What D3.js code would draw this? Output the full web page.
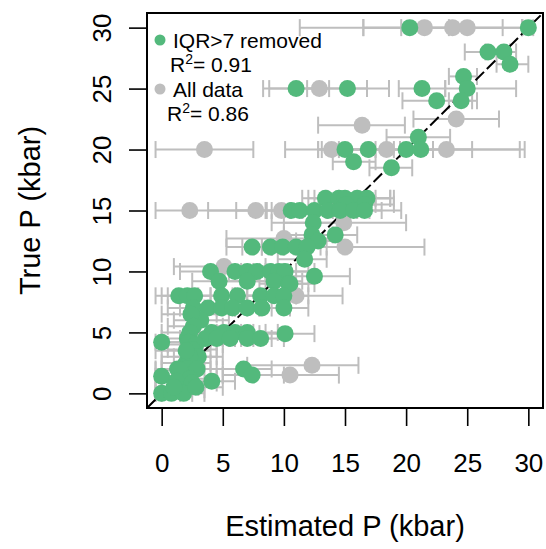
<!DOCTYPE html>
<html lang="en">
<head>
<meta charset="utf-8">
<title>True vs estimated P</title>
<script src="https://cdn.jsdelivr.net/npm/d3@7/dist/d3.min.js"></script>
<style>
  body { margin: 0; background: #fff; }
  text { font-family: "Liberation Sans", Arial, sans-serif; fill: #000; }
  .tick line { stroke: #000; stroke-width: 1.6px; }
  .bar { stroke: #bebebe; stroke-width: 2px; fill: none; }
</style>
</head>
<body>
<script>
// each point: [true P, estimated P, bar low, bar high]  (kbar)
var removedPts = [
  [30, 21.5, 11.3, 27.9], [30, 23.8, 16.5, 29.5], [30, 25.0, 19.6, 29.5],
  [25, 12.9, 8.3, 18.6], [22.5, 24.1, 20.6, 27.6], [22, 16.4, 12.8, 19.9],
  [20, 3.5, -0.5, 7.5], [20, 13.9, 10.1, 22.2], [20, 18.4, 13.1, 25.4],
  [20, 23.3, 12.8, 29.7], [15, 2.3, -0.5, 8.6], [15, 7.7, 3.8, 11.5],
  [15, 9.8, 6.1, 14.0], [14, 14.9, 9.0, 20.0], [12.7, 10.0, 5.3, 14.5],
  [12, 15.0, 8.2, 21.5], [10.4, 5.1, 1.0, 8.5], [8, 11.0, 5.8, 14.8],
  [2.3, 12.3, 7.0, 16.1], [1.5, 10.5, 5.0, 14.5]
];

var keptPts = [
  [30, 20.3, 16.5, 23.5], [30, 30.0, 29.5, 30.4],
  [28, 26.7, 24.8, 28.5], [28, 28.0, 26.5, 29.0], [27, 28.5, 27.4, 30.0],
  [26, 24.7, 23.5, 25.8],
  [25, 11.0, 8.8, 13.7], [25, 15.2, 11.9, 16.8], [25, 21.3, 19.4, 23.2], [25, 25.0, 23.2, 29.0],
  [24, 22.5, 19.7, 25.4], [24, 24.5, 23.5, 25.8],
  [21, 21.0, 18.4, 23.6],
  [20, 15.0, 12.8, 17.0], [20, 16.9, 14.5, 19.0], [20, 20.0, 17.5, 22.2], [20, 21.2, 19.5, 29.3],
  [19, 15.7, 14.0, 17.5], [18.5, 18.8, 17.0, 20.5],
  [16, 13.4, 11.5, 16.0], [16, 14.5, 12.0, 17.5], [16, 15.0, 12.5, 18.7], [16, 16.0, 13.5, 19.0], [16, 16.8, 14.5, 18.7],
  [15.5, 15.1, 13.0, 17.5], [15.5, 16.6, 14.0, 19.0],
  [15, 10.6, 9.0, 12.5], [15, 11.3, 8.5, 13.5], [15, 12.5, 10.5, 14.5], [15, 13.6, 11.5, 16.0],
  [15, 14.6, 12.5, 17.0], [15, 15.7, 13.5, 18.0], [15, 16.6, 14.5, 19.6],
  [14, 12.4, 10.0, 14.5], [13, 12.3, 10.0, 14.0], [13, 14.2, 12.0, 16.0], [12.5, 12.8, 11.0, 14.5],
  [12, 7.4, 5.3, 9.0], [12, 8.9, 6.6, 11.0], [12, 9.9, 8.2, 12.0], [12, 11.0, 9.0, 13.0], [12, 11.9, 10.0, 13.5],
  [11, 11.7, 9.5, 13.5],
  [10, 4.0, 1.5, 6.0], [10, 6.0, 4.0, 8.5], [10, 7.0, 5.0, 9.0], [10, 7.8, 5.5, 10.0],
  [10, 8.9, 6.5, 11.0], [10, 9.6, 7.5, 12.0], [10, 10.1, 8.0, 12.5],
  [9.6, 12.5, 10.0, 15.4],
  [9.2, 4.7, 2.5, 7.0], [9.2, 7.0, 5.0, 9.5], [9.2, 9.2, 7.0, 11.5], [9, 10.4, 8.0, 12.0], [9, 10.5, 8.5, 12.5],
  [8, 1.4, -0.5, 3.0], [8, 2.1, 0.0, 4.0], [8, 2.7, 0.5, 4.5], [8, 4.9, 2.5, 7.0],
  [8, 6.2, 4.0, 8.5], [8, 8.1, 6.0, 10.0], [8, 9.2, 7.0, 11.0], [8, 10.0, 8.0, 12.0],
  [7, 2.6, 0.5, 4.5], [7, 3.8, 1.5, 6.0], [7, 4.9, 3.0, 7.0], [7, 5.8, 3.5, 8.0],
  [7, 7.0, 5.0, 9.0], [7, 8.2, 6.0, 10.5], [7, 10.0, 8.0, 12.0],
  [6, 3.2, 1.0, 5.5], [6.5, 2.4, 0.0, 4.5], [5.5, 2.6, 0.5, 5.0],
  [5, 2.3, 0.0, 4.5], [5, 4.1, 2.0, 6.5], [5, 5.1, 3.0, 7.5], [5, 6.0, 4.0, 8.5], [5, 7.0, 5.0, 9.5],
  [4.9, 10.1, 8.0, 12.5],
  [4.5, 2.1, 0.0, 4.0], [4.5, 3.6, 1.5, 5.5], [4.5, 4.5, 2.5, 6.5], [4.5, 5.6, 3.5, 7.5],
  [4.5, 7.0, 5.0, 9.0], [4.5, 8.1, 6.0, 10.0],
  [4.2, 0.0, -0.5, 2.0], [4.2, 2.2, 0.0, 4.5], [4, 2.8, 0.5, 5.0], [3.6, 2.5, 0.5, 4.5], [3, 3.0, 1.0, 5.0],
  [2.5, 2.0, 0.0, 4.0], [3, 2.3, 0.0, 4.5], [3.5, 2.0, -0.5, 4.0],
  [2, 1.3, -0.5, 3.0], [2, 2.1, 0.0, 4.0], [2, 2.9, 1.0, 5.0], [2, 6.7, 4.5, 9.0], [1.5, 7.4, 5.0, 10.0],
  [1, 4.1, 2.0, 6.0], [1.4, 0.0, -0.5, 2.0], [1.9, 1.5, -0.5, 3.5], [1.2, 2.3, 0.0, 4.5], [1, 1.2, -0.5, 3.0],
  [0, 0.0, -0.5, 1.5], [0, 0.8, -0.5, 2.5], [0.3, 1.8, 0.0, 3.5], [0.85, 2.5, 0.5, 4.5], [0, 1.8, 0.0, 3.5],
  [0.5, 1.0, -0.5, 3.0], [0.5, 2.8, 0.5, 5.0]
];

var xTicks = [0, 5, 10, 15, 20, 25, 30];
var yTicks = [0, 5, 10, 15, 20, 25, 30];
var legendNames = ["IQR>7 removed", "All data"];
var legendR2 = ["0.91", "0.86"];

// layout (plot box edges)
var w = 546, h = 549;
var boxL = 147, boxR = 543, boxT = 13, boxB = 408;
var green = "#53b97c", grey = "#bebebe";
var rad = 8.5, cap = 8.5;

var svg = d3.select("body").append("svg")
  .attr("width", w)
  .attr("height", h);

var x = d3.scaleLinear().domain([-1.2, 31.2]).range([boxL, boxR]);
var y = d3.scaleLinear().domain([-1.2, 31.2]).range([boxB, boxT]);

var allPts = removedPts.concat(keptPts);

// error bars (all points)
var bars = svg.append("g");
allPts.forEach(function(d) {
  var yy = y(d[0]);
  bars.append("line").attr("class", "bar")
    .attr("x1", x(d[2])).attr("x2", x(d[3])).attr("y1", yy).attr("y2", yy);
  [d[2], d[3]].forEach(function(e) {
    bars.append("line").attr("class", "bar")
      .attr("x1", x(e)).attr("x2", x(e)).attr("y1", yy - cap).attr("y2", yy + cap);
  });
});

// 1:1 line
svg.append("line")
  .attr("x1", x(-1.2)).attr("y1", y(-1.2))
  .attr("x2", x(31.2)).attr("y2", y(31.2))
  .attr("stroke", "#000").attr("stroke-width", 2)
  .attr("stroke-dasharray", "12,4");

// points
svg.append("g").selectAll("circle")
  .data(removedPts).enter().append("circle")
  .attr("cx", d => x(d[1])).attr("cy", d => y(d[0]))
  .attr("r", rad).attr("fill", grey);

svg.append("g").selectAll("circle")
  .data(keptPts).enter().append("circle")
  .attr("cx", d => x(d[1])).attr("cy", d => y(d[0]))
  .attr("r", rad).attr("fill", green);

// box
svg.append("rect")
  .attr("x", boxL).attr("y", boxT)
  .attr("width", boxR - boxL).attr("height", boxB - boxT)
  .attr("fill", "none").attr("stroke", "#000").attr("stroke-width", 2);

// axes
var gX = svg.append("g")
  .attr("transform", "translate(0," + boxB + ")")
  .call(d3.axisBottom(x).tickValues(xTicks).tickSize(18).tickPadding(0).tickSizeOuter(0));
gX.select(".domain").remove();
gX.selectAll("text")
  .attr("y", 64).attr("dy", 0)
  .style("font-size", "26px");

var gY = svg.append("g")
  .attr("transform", "translate(" + boxL + ",0)")
  .call(d3.axisLeft(y).tickValues(yTicks).tickSize(18).tickPadding(0).tickSizeOuter(0));
gY.select(".domain").remove();
gY.selectAll("text")
  .attr("x", 0).attr("dy", 0)
  .attr("text-anchor", "middle")
  .attr("transform", "translate(-36,0) rotate(-90)")
  .style("font-size", "26px");

// axis titles
svg.append("text")
  .attr("x", (boxL + boxR) / 2).attr("y", 536)
  .attr("text-anchor", "middle")
  .style("font-size", "29px")
  .text("Estimated P (kbar)");

svg.append("text")
  .attr("transform", "translate(40," + ((boxT + boxB) / 2) + ") rotate(-90)")
  .attr("text-anchor", "middle")
  .style("font-size", "29px")
  .text("True P (kbar)");

// legend
var legCols = [green, grey];
var leg = svg.append("g");
legendNames.forEach(function(name, i) {
  var by = 48 + i * 49;
  leg.append("circle")
    .attr("cx", 160).attr("cy", by - 8).attr("r", 5.5)
    .attr("fill", legCols[i]);
  leg.append("text")
    .attr("x", 173).attr("y", by)
    .style("font-size", "21px")
    .text(name);
  var t = leg.append("text")
    .attr("x", 170 - i * 3).attr("y", by + 24)
    .style("font-size", "21px");
  t.append("tspan").text("R");
  t.append("tspan").attr("dy", -8).style("font-size", "14px").text("2");
  t.append("tspan").attr("dy", 8).text("= " + legendR2[i]);
});
</script>
</body>
</html>
